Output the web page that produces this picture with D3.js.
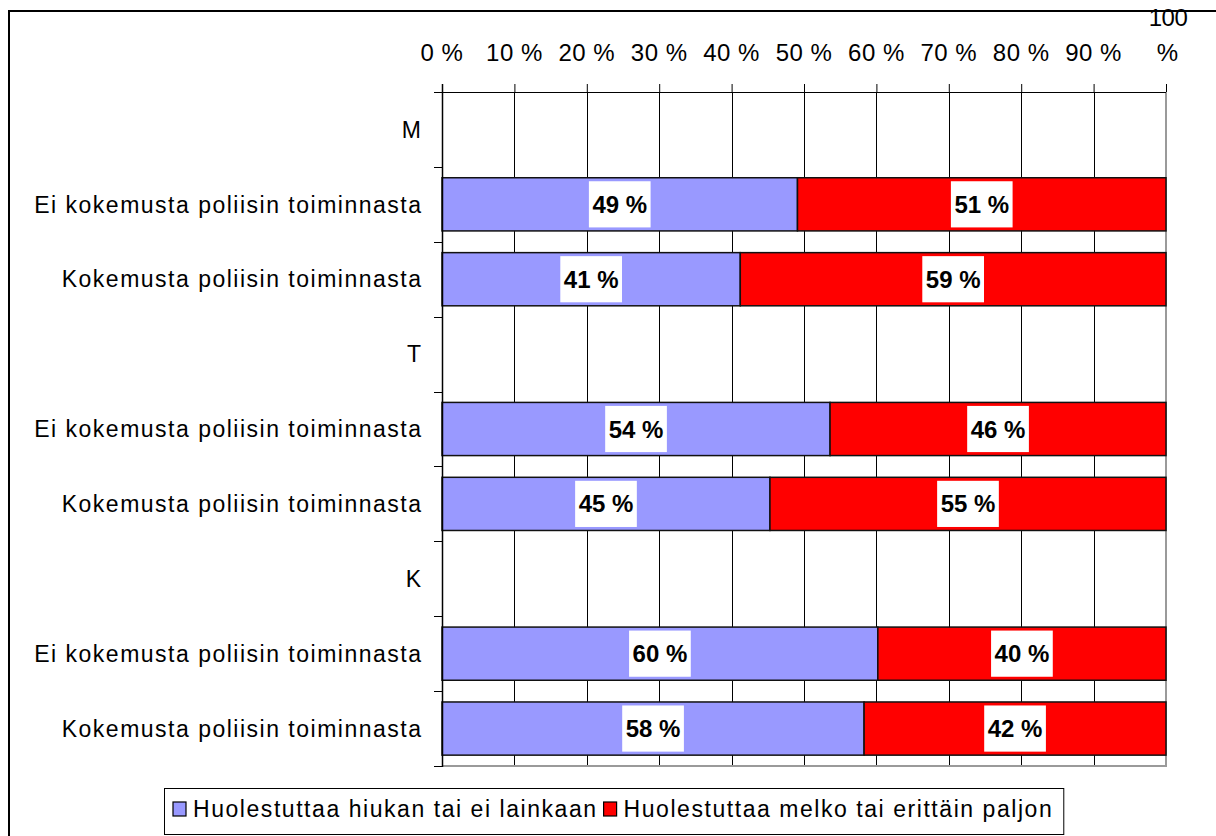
<!DOCTYPE html>
<html>
<head>
<meta charset="utf-8">
<script src="https://cdn.jsdelivr.net/npm/d3@7"></script>
<style>
  html, body { margin: 0; padding: 0; background: #fff; }
  svg { display: block; }
  text { font-family: "Liberation Sans", Arial, sans-serif; fill: #000; }
</style>
</head>
<body>
<svg id="chart" width="1216" height="836"></svg>
<script>
// ---- data ----
const categories = [
  "M",
  "Ei kokemusta poliisin toiminnasta",
  "Kokemusta poliisin toiminnasta",
  "T",
  "Ei kokemusta poliisin toiminnasta",
  "Kokemusta poliisin toiminnasta",
  "K",
  "Ei kokemusta poliisin toiminnasta",
  "Kokemusta poliisin toiminnasta"
];
const seriesNames = [
  "Huolestuttaa hiukan tai ei lainkaan",
  "Huolestuttaa melko tai erittäin paljon"
];
const lowConcern  = [null, 49.1, 41.2, null, 53.6, 45.3, null, 60.2, 58.3];
const highConcern = [null, 50.9, 58.8, null, 46.4, 54.7, null, 39.8, 41.7];
const tickValues = [0, 10, 20, 30, 40, 50, 60, 70, 80, 90, 100];
const seriesColors = ["#9999FF", "#FF0000"];

// ---- layout ----
const svg = d3.select("#chart");
const plot = { left: 442, right: 1166, top: 92, bottom: 766 };

// outer chart border
svg.append("rect")
  .attr("x", 9).attr("y", 11)
  .attr("width", 1400).attr("height", 1000)
  .attr("fill", "none").attr("stroke", "#000").attr("stroke-width", 2);

const x = d3.scaleLinear().domain([0, 100]).range([plot.left, plot.right]);
const y = d3.scaleBand()
  .domain(d3.range(categories.length))
  .range([plot.top, plot.bottom])
  .paddingInner(0.29).paddingOuter(0.145);
const step = y.step();

// gridlines
svg.append("g")
  .selectAll("line")
  .data(tickValues.filter(v => v > 0 && v < 100))
  .join("line")
  .attr("x1", d => Math.round(x(d)) + 0.5).attr("x2", d => Math.round(x(d)) + 0.5)
  .attr("y1", plot.top).attr("y2", plot.bottom)
  .attr("stroke", "#000").attr("stroke-width", 1);

// plot area right & bottom border (gray)
svg.append("line")
  .attr("x1", x(100)).attr("x2", x(100))
  .attr("y1", plot.top).attr("y2", plot.bottom)
  .attr("stroke", "#9a9a9a").attr("stroke-width", 2);
svg.append("line")
  .attr("x1", plot.left).attr("x2", x(100) + 1)
  .attr("y1", plot.bottom).attr("y2", plot.bottom)
  .attr("stroke", "#9a9a9a").attr("stroke-width", 2);

// stacked bars
const rows = categories.map((c, i) => ({ i, low: lowConcern[i], high: highConcern[i] }))
  .filter(r => r.low != null);

const segs = [];
rows.forEach(r => {
  segs.push({ i: r.i, s: 0, x0: 0, x1: r.low, v: r.low });
  segs.push({ i: r.i, s: 1, x0: r.low, x1: r.low + r.high, v: r.high });
});

const barG = svg.append("g");
barG.selectAll("rect")
  .data(segs)
  .join("rect")
  .attr("x", d => x(d.x0))
  .attr("y", d => y(d.i))
  .attr("width", d => x(d.x1) - x(d.x0))
  .attr("height", y.bandwidth())
  .attr("fill", d => seriesColors[d.s])
  .attr("stroke", "#111").attr("stroke-width", 1.5);

// data labels with white boxes
const labG = svg.append("g");
segs.forEach(d => {
  const cx = (x(d.x0) + x(d.x1)) / 2;
  const cy = y(d.i) + y.bandwidth() / 2;
  const g = labG.append("g");
  const box = g.append("rect").attr("fill", "#fff");
  const t = g.append("text")
    .attr("x", cx).attr("y", cy + 8.6)
    .attr("text-anchor", "middle")
    .style("font-size", "24px").style("font-weight", "bold")
    .text(Math.round(d.v) + " %");
  const w = t.node().getComputedTextLength();
  const bh = y.bandwidth() - 7;
  box.attr("x", cx - w / 2 - 3.5).attr("width", w + 7)
     .attr("y", cy - bh / 2).attr("height", bh);
});

// top axis
const axisG = svg.append("g").attr("transform", `translate(0,${plot.top})`)
  .call(d3.axisTop(x).tickValues(tickValues).tickSize(8).tickSizeOuter(0).tickFormat(""));
axisG.select(".domain").attr("d", `M${plot.left - 8},0.5H${plot.right}`).attr("stroke", "#000");
axisG.selectAll(".tick line").attr("stroke", "#000");

// tick labels
const tickLab = svg.append("g");
tickValues.forEach(v => {
  if (v === 100) {
    tickLab.append("text").attr("x", x(v) + 1.5).attr("y", 60.5)
      .attr("text-anchor", "middle").style("font-size", "24px").text("%");
    tickLab.append("text").attr("x", x(v) + 2).attr("y", 26)
      .attr("text-anchor", "middle").style("font-size", "24px")
      .style("letter-spacing", "-0.5px").text(String(v));
  } else {
    tickLab.append("text").attr("x", x(v)).attr("y", 60.5)
      .attr("text-anchor", "middle").style("font-size", "24px")
      .style("letter-spacing", "0.5px").text(v + " %");
  }
});

// left category axis
svg.append("line")
  .attr("x1", plot.left + 0.5).attr("x2", plot.left + 0.5)
  .attr("y1", plot.top - 8).attr("y2", plot.bottom + 1)
  .attr("stroke", "#000").attr("stroke-width", 1.5);
const bounds = d3.range(categories.length + 1).map(k => plot.top + k * step);
svg.append("g").selectAll("line")
  .data(bounds.slice(1))
  .join("line")
  .attr("x1", plot.left - 8).attr("x2", plot.left)
  .attr("y1", d => Math.round(d) + 0.5).attr("y2", d => Math.round(d) + 0.5)
  .attr("stroke", "#000");

svg.append("g").selectAll("text")
  .data(categories)
  .join("text")
  .attr("x", 422.5)
  .attr("y", (d, i) => y(i) + y.bandwidth() / 2 + 8.2)
  .attr("text-anchor", "end")
  .style("font-size", "23px")
  .style("letter-spacing", "1.5px")
  .text(d => d);

// legend
const leg = svg.append("g");
const legBox = leg.append("rect")
  .attr("x", 164.5).attr("y", 788.5).attr("height", 46)
  .attr("fill", "#fff").attr("stroke", "#000").attr("stroke-width", 1);
let cursor = 173;
seriesNames.forEach((name, i) => {
  leg.append("rect")
    .attr("x", cursor).attr("y", 802).attr("width", 13).attr("height", 14)
    .attr("fill", seriesColors[i]).attr("stroke", "#000").attr("stroke-width", 1.2);
  const t = leg.append("text")
    .attr("x", cursor + 20).attr("y", 817)
    .style("font-size", "23px").style("letter-spacing", "1.55px").text(name);
  cursor = cursor + 20 + t.node().getComputedTextLength() + 6;
});
legBox.attr("width", cursor - 164 + 4);
</script>
</body>
</html>
